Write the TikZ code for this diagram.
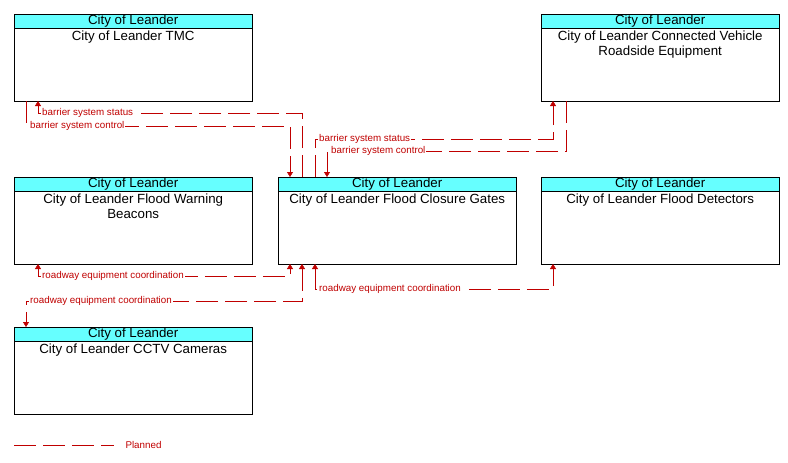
\documentclass[tikz,border=0pt]{standalone}
\usepackage{fontspec}
\setmainfont{Liberation Sans}
\usetikzlibrary{arrows.meta}
\definecolor{hdr}{RGB}{102,255,255}
\definecolor{flow}{RGB}{192,0,0}
\tikzset{
  elem/.style={draw, minimum width=238pt, minimum height=87pt, anchor=north west, inner sep=0pt},
  hdrbox/.style={draw, fill=hdr, minimum width=238pt, minimum height=14pt, anchor=north west, inner sep=0pt, font=\fontsize{13.3}{13}\selectfont},
  body/.style={anchor=north, align=center, font=\fontsize{13.3}{15}\selectfont, inner sep=1pt, yshift=-1pt},
  planned/.style={draw=flow, dash pattern=on 22pt off 7pt},
  flowlbl/.style={text=flow, font=\fontsize{9.8}{10}\selectfont, inner sep=1pt, fill=white, anchor=west},
  tip/.style={-{Triangle[length=5pt,width=6pt]}},
  tips/.style={{Triangle[length=5pt,width=6pt]}-{Triangle[length=5pt,width=6pt]}}
}
% one element box: name, x, y, title
\newcommand{\elem}[4]{%
  \node[elem] (#1) at (#2,#3) {};
  \node[hdrbox] (#1h) at (#2,#3) {City of Leander};
  \node[body] at (#1h.south) {#4};
}
\begin{document}
\begin{tikzpicture}[x=1pt,y=-1pt]
\useasboundingbox (0,0) rectangle (788,463);
\elem{tmc}{14}{14}{City of Leander TMC}
\elem{cv}{541}{14}{City of Leander Connected Vehicle\\Roadside Equipment}
\elem{warn}{14}{177}{City of Leander Flood Warning\\Beacons}
\elem{gates}{278}{177}{City of Leander Flood Closure Gates}
\elem{det}{541}{177}{City of Leander Flood Detectors}
\elem{cctv}{14}{327}{City of Leander CCTV Cameras}

% barrier flows
\draw[planned, tip] (302,177) -- (302,113) -- (38,113) -- (38,101);
\node[flowlbl] at (41,113) {barrier system status};
\draw[planned, tip] (26,101) -- (26,126) -- (290,126) -- (290,177);
\node[flowlbl] at (29,126) {barrier system control};
\draw[planned, tip] (315,177) -- (315,139) -- (553,139) -- (553,101);
\node[flowlbl] at (318,139) {barrier system status};
\draw[planned, tip] (566,101) -- (566,151) -- (327,151) -- (327,177);
\node[flowlbl] at (330,151) {barrier system control};

% roadway equipment coordination
\draw[planned, tips] (38,264) -- (38,276) -- (290,276) -- (290,264);
\node[flowlbl] at (41,276) {roadway equipment coordination};
\draw[planned, tips] (302,264) -- (302,301) -- (26,301) -- (26,327);
\node[flowlbl] at (29,301) {roadway equipment coordination};
\draw[planned, tips] (315,264) -- (315,289) -- (553,289) -- (553,264);
\node[flowlbl] at (318,289) {roadway equipment coordination};

% legend
\draw[planned] (14,445) -- (114,445);
\node[text=flow, font=\fontsize{9.8}{10}\selectfont, anchor=west] at (122,445) {Planned};
\end{tikzpicture}
\end{document}
